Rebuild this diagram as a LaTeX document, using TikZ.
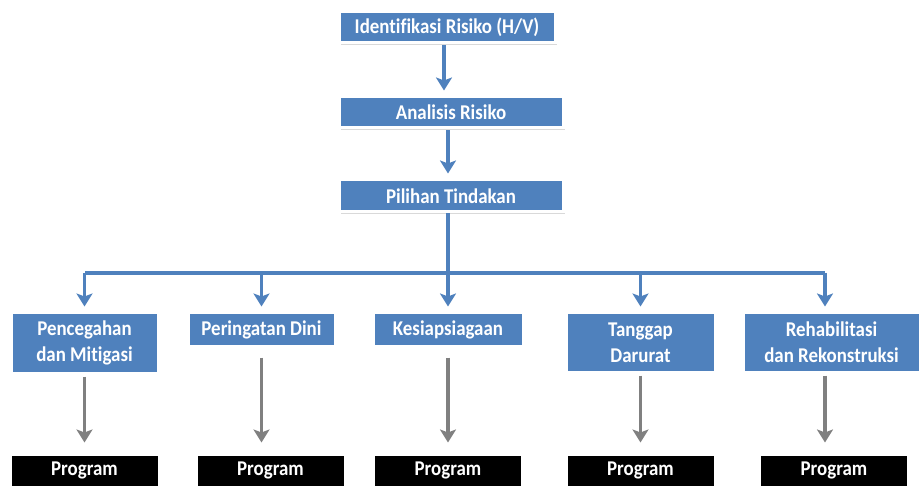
\documentclass[tikz,border=0pt]{standalone}
\usepackage{fontspec}
\setmainfont{Carlito}[Ligatures=NoCommon, FakeStretch=0.9]
\usetikzlibrary{arrows.meta,shadows}
\definecolor{cblu}{RGB}{79,129,189}
\definecolor{cgry}{RGB}{128,128,128}

\tikzset{
  stepbox/.style={rectangle, fill=cblu, draw=white, line width=3pt, text=white,
    font=\fontsize{21}{26}\selectfont\bfseries, align=center, inner sep=0pt,
    drop shadow={opacity=0.3, shadow xshift=1.5pt, shadow yshift=-2pt}},
  progbox/.style={stepbox, fill=black, minimum width=149pt, minimum height=33pt},
  bluarrow/.style={draw=cblu, line width=3.5pt, -{Stealth[width=16pt,length=13pt,inset=3pt]}},
  gryarrow/.style={draw=cgry, line width=3.5pt, -{Stealth[width=16pt,length=13pt,inset=3pt]}}
}

\begin{document}
\begin{tikzpicture}[x=1pt, y=-1pt]
  \useasboundingbox (0,0) rectangle (921,494);
  % top chain
  \node[stepbox, minimum width=216pt, minimum height=31pt] (ident) at (447,27.5) {Identifikasi Risiko (H/V)};
  \node[stepbox, minimum width=224pt, minimum height=31pt] (analisis) at (451,112.5) {Analisis Risiko};
  \node[stepbox, minimum width=224pt, minimum height=32pt] (pilihan) at (451,196) {Pilihan Tindakan};
  % actions
  \node[stepbox, minimum width=147pt, minimum height=60pt] (cegah) at (84.5,343) {Pencegahan\\dan Mitigasi};
  \node[stepbox, minimum width=147pt, minimum height=33pt] (dini) at (261.5,329.5) {Peringatan Dini};
  \node[stepbox, minimum width=150pt, minimum height=33pt] (siaga) at (448,329.5) {Kesiapsiagaan};
  \node[stepbox, minimum width=149pt, minimum height=59pt] (tanggap) at (640.5,342.5) {Tanggap\\Darurat};
  \node[stepbox, minimum width=177pt, minimum height=59pt] (rehab) at (831.5,342.5) {Rehabilitasi\\dan Rekonstruksi};
  % programs
  \node[progbox] (prog1) at (84.5,470.5) {Program};
  \node[progbox] (prog2) at (270.5,470.5) {Program};
  \node[progbox] (prog3) at (448,470.5) {Program};
  \node[progbox] (prog4) at (640.5,470.5) {Program};
  \node[progbox] (prog5) at (834,470.5) {Program};
  \coordinate (bus) at (448,273);
  % blue arrows
  \draw[bluarrow, shorten <=1pt, shorten >=5pt] ([xshift=-3pt]ident.south) -- ([xshift=-3pt]ident.south |- analisis.north);
  \draw[bluarrow, shorten <=1pt, shorten >=5pt] ([xshift=-3pt]analisis.south) -- ([xshift=-3pt]analisis.south |- pilihan.north);
  \draw[draw=cblu, line width=3.5pt] ([xshift=-3pt]pilihan.south) -- (bus);
  \draw[draw=cblu, line width=3.5pt] (bus) -- ([xshift=-6.5pt]rehab.north |- bus);
  \draw[draw=cblu, line width=3.5pt] (bus) -- (cegah.north |- bus);
  \foreach \n/\dx in {cegah/0, dini/0, siaga/0, tanggap/0, rehab/-6.5}
    \draw[bluarrow, shorten >=5pt] ([xshift=\dx pt]\n.north |- bus) -- ([xshift=\dx pt]\n.north);
  % gray arrows
  \draw[gryarrow, shorten <=2pt, shorten >=10pt] (cegah.south) -- (prog1.north);
  \draw[gryarrow, shorten <=10pt, shorten >=10pt] (dini.south) -- (dini.south |- prog2.north);
  \draw[gryarrow, shorten <=10pt, shorten >=10pt] (siaga.south) -- (siaga.south |- prog3.north);
  \draw[gryarrow, shorten <=2pt, shorten >=10pt] (tanggap.south) -- (tanggap.south |- prog4.north);
  \draw[gryarrow, shorten <=2pt, shorten >=10pt] ([xshift=-6.5pt]rehab.south) -- ([xshift=-6.5pt]rehab.south |- prog5.north);
\end{tikzpicture}
\end{document}
